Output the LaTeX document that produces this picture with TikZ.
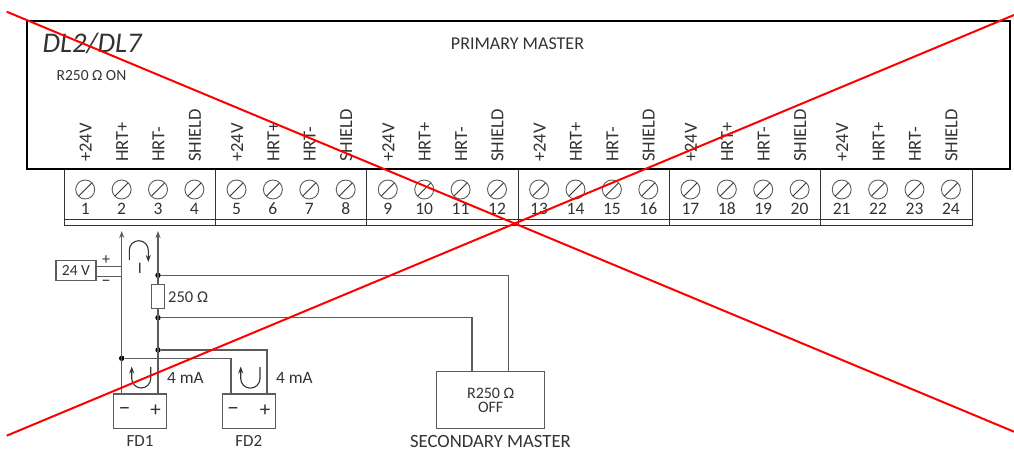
\documentclass[tikz,border=0pt]{standalone}
\usepackage{fontspec}
\setmainfont{Carlito}
\usetikzlibrary{calc,arrows.meta}

\definecolor{inkgrey}{gray}{0.2}
\definecolor{wiregrey}{gray}{0.36}

\tikzset{
  box/.style={draw=wiregrey, line width=1.1pt, inner sep=0pt, text=inkgrey},
  wire/.style={draw=wiregrey, line width=1.2pt},
  strip/.style={draw=inkgrey, line width=0.9pt},
  txt/.style={text=inkgrey, inner sep=0pt, font=\fontsize{#1}{#1}\selectfont},
  txt/.default=13,
  pinlabel/.style={txt=18.5, rotate=90, anchor=west},
  junction/.style={fill=black, circle, inner sep=0pt, minimum size=5.4pt},
  loopline/.style={draw=inkgrey, line width=1.1pt, -{Stealth[length=7pt,width=5pt]}},
  cross/.style={draw=red, line width=2pt}
}

\begin{document}
\begin{tikzpicture}[x=1pt,y=-1pt]

  % Page size
  \useasboundingbox (0,0) rectangle (1014,449);

  % Parameters
  \def\groupstep{151.3}  % distance between terminal groups
  \def\pinstep{36.4}     % distance between screws
  \def\wiretop{231}      % tip of the arrows under the strip

  % Terminal strip
  \node[strip, fill=none, minimum width=907.5pt, minimum height=56pt, inner sep=0pt] (strip) at (518.25,197) {};
  \coordinate (stripL) at (64.5,219.8);
  \coordinate (stripR) at (971.7,219.8);
  \draw[strip] (stripL) -- (stripR);
  \foreach \d in {215.7,366.8,518,669.3,820.4}
    \draw[draw=inkgrey, line width=1pt] (\d,169) -- (\d,225);

  % Main housing
  \node[draw=black, line width=1.5pt, inner sep=0pt, minimum width=983pt, minimum height=148pt] (master) at (518.5,95) {};
  \node[txt=28.5, font=\itshape\fontsize{28.5}{28.5}\selectfont, anchor=west] (dltxt) at (42.5,43.5) {DL2/DL7};
  \node[txt=18] (primary) at (517.5,44) {PRIMARY MASTER};
  \node[txt=15.5, anchor=west] (ron) at (56.5,76) {R250 Ω ON};

  % Screws, numbers and pin names
  \foreach \g in {0,...,5}
    \foreach \p/\name [count=\i from 0] in {0/{+24V},1/{HRT+},2/{HRT-},3/{SHIELD}} {
      \pgfmathsetmacro{\sx}{85.2+\g*\groupstep+\p*\pinstep}
      \pgfmathtruncatemacro{\num}{\g*4+\p+1}
      \coordinate (s\num) at (\sx,189.5);
      \draw[draw=wiregrey, line width=0.9pt] (s\num) circle (9.5);
      \draw[draw=inkgrey, line width=0.9pt] ($(s\num)+(-6.4,6.4)$) -- ($(s\num)+(6.4,-6.4)$);
      \node[txt=17.5] (n\num) at (\sx,209) {\num};
      \node[pinlabel] (l\num) at (\sx+0.5,162) {\name};
    }

  % Source
  \node[box, minimum width=40pt, minimum height=19.6pt, font=\fontsize{15.5}{15.5}\selectfont] (src) at (76,270.5) {24 V};
  \coordinate (hrtp) at (121.7,\wiretop);
  \coordinate (hrtm) at (158,\wiretop);
  \node[txt=16] (plus) at (106,260) {+};
  \node[txt=18] (minus) at (106,283) {−};

  % Field devices
  \node[box, minimum width=53.4pt, minimum height=34.7pt] (fdone) at (140,411.3) {};
  \node[box, minimum width=53pt, minimum height=34.7pt] (fdtwo) at (248.8,411.3) {};
  \node[txt=23] (fdoneminus) at (124.5,411) {−};
  \node[txt=21] (fdoneplus) at (155.5,411) {+};
  \node[txt=23] (fdtwominus) at (233,411) {−};
  \node[txt=21] (fdtwoplus) at (265,411) {+};
  \node[txt=17] (fdonetxt) at (140,441) {FD1};
  \node[txt=17] (fdtwotxt) at (248.8,441) {FD2};

  % Secondary master
  \node[box, minimum width=108pt, minimum height=56.6pt, align=center, font=\fontsize{16}{14}\selectfont] (sec) at (490.7,400) {R250 Ω\\OFF};
  \node[txt=18.7] (sectxt) at (490.5,441) {SECONDARY MASTER};

  % Resistor
  \node[box, minimum width=12.3pt, minimum height=24.4pt] (res) at (158,296.5) {};
  \node[txt=16.5, anchor=west] (restxt) at (168,297) {250 Ω};

  % Junctions
  \node[junction] (ja) at (158,275.3) {};
  \node[junction] (jb) at (158,317.7) {};
  \node[junction] (jc) at (158,350) {};
  \node[junction] (jd) at (121.7,358.3) {};

  % Wiring
  \draw[wire, -{Stealth[length=7pt,width=5pt]}] (fdone.north -| hrtp) -- (hrtp);
  \draw[wire, -{Stealth[length=7pt,width=5pt]}] (res.north) -- (hrtm);
  \draw[wire] (res.south) -- (fdone.north -| res.south);
  \draw[wire] (src.east |- 0,266.7) -- (121.7,266.7);
  \draw[wire] (src.east |- 0,276.3) -- (121.7,276.3);
  \draw[wire] (ja) -- (508.3,275.3) -- (508.3,371.7);
  \draw[wire] (jb) -- (472,317.7) -- (472,371.7);
  \draw[wire] (jc) -- (267,350) -- (267,393.9);
  \draw[wire] (jd) -- (231,358.3) -- (231,393.9);

  % Current loops
  \draw[loopline] (129.3,260) -- (129.3,250.2) arc[start angle=180, end angle=360, radius=9.5] -- (148.3,262);
  \node[txt=16] (itxt) at (140,268) {I};
  \draw[loopline] (150.7,367) -- (150.7,378.5) arc[start angle=0, end angle=180, radius=9.5] -- (131.7,366.5);
  \draw[loopline] (260,367) -- (260,378.5) arc[start angle=0, end angle=180, radius=9.65] -- (240.7,366.5);
  \node[txt=17.3, anchor=west] (ione) at (167,377.5) {4 mA};
  \node[txt=17.3, anchor=west] (itwo) at (276,377.5) {4 mA};

  % Crossing out
  \draw[cross] (6.7,11.7) -- (1014,431.7);
  \draw[cross] (6.7,435.7) -- (1014,15);

\end{tikzpicture}
\end{document}
